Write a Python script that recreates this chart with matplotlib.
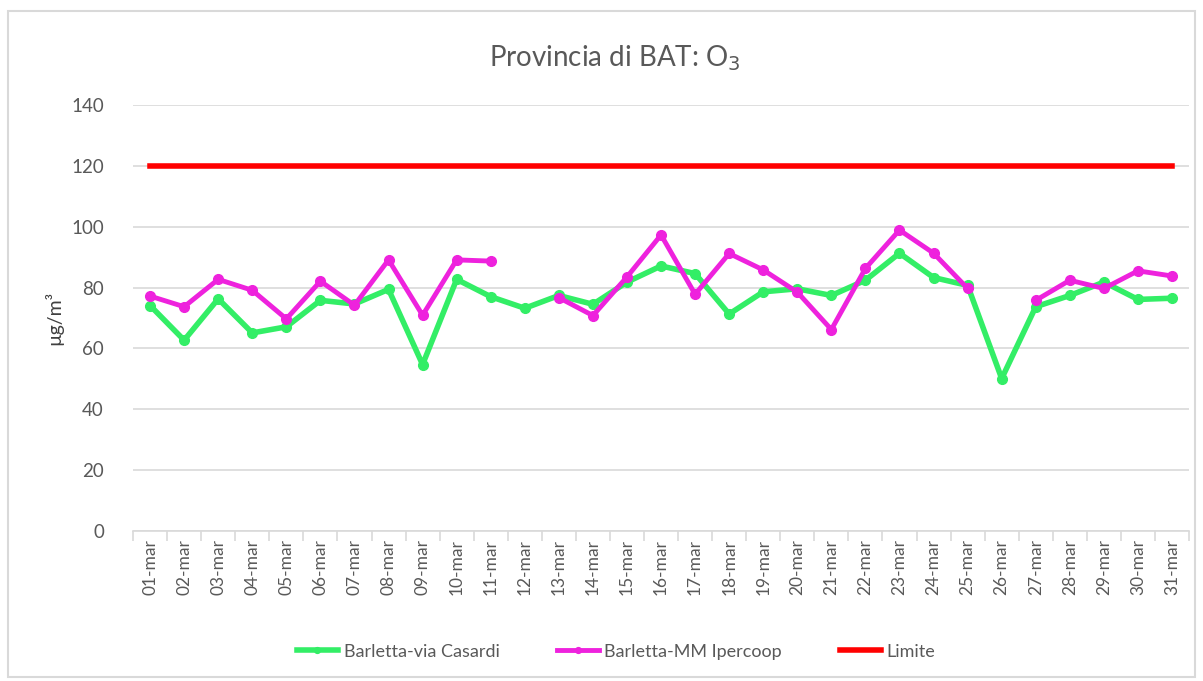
import matplotlib.pyplot as plt
import matplotlib.patches as patches
import numpy as np

plt.rcParams['font.family'] = ['Lato', 'DejaVu Sans']

days = ["%02d-mar" % d for d in range(1, 32)]

# Barletta-via Casardi
casardi = [74.1, 62.7, 76.3, 65.1, 67.1, 75.8, 74.6, 79.4, 54.7, 82.7, 77.0,
           73.2, 77.4, 74.5, 81.8, 87.1, 84.6, 71.3, 78.6, 79.6, 77.4,
           82.4, 91.3, 83.3, 80.7, 50.1, 73.7, 77.4, 81.8, 76.1, 76.5]
# Barletta-MM Ipercoop (gaps on 12 and 26)
ipercoop = [77.2, 73.7, 82.7, 79.1, 69.7, 82.1, 74.2, 89.1, 70.9, 89.1, 88.7,
            np.nan, 76.7, 70.8, 83.5, 97.3, 77.8, 91.2, 85.8, 78.5, 66.2,
            86.3, 98.9, 91.3, 79.7, np.nan, 75.8, 82.4, 79.7, 85.5, 83.8]
limite = [120] * 31

x = np.arange(len(days))

fig = plt.figure(figsize=(12.03, 6.81), dpi=100)
ax = fig.add_axes([0.1106, 0.2203, 0.8778, 0.6255])

# chart border like excel
fig.patches.append(patches.Rectangle((8 / 1203, 4 / 681), 1187 / 1203, 666 / 681,
                                     transform=fig.transFigure, fill=False,
                                     edgecolor='#d9d9d9', linewidth=1.5))

ax.plot(x, casardi, color='#33ee66', lw=4, marker='o', ms=7, label='Barletta-via Casardi')
ax.plot(x, ipercoop, color='#ee22dd', lw=3.5, marker='o', ms=7, label='Barletta-MM Ipercoop')
ax.plot(x, limite, color='#ff0000', lw=4, label='Limite')

ax.set_xlim(-0.5, len(days) - 0.5)
ax.set_ylim(0, 140)
ax.set_yticks(range(0, 141, 20))
ax.grid(axis='y', color='#d9d9d9', lw=1.2)
ax.set_axisbelow(True)

ax.set_xticks(x)
ax.set_xticklabels(days, rotation=90, fontsize=12.5, color='#595959')
ax.set_xticks(np.arange(-0.5, len(days), 1), minor=True)
ax.tick_params(axis='x', which='major', length=0, pad=6)
ax.tick_params(axis='x', which='minor', length=7, color='#d9d9d9', width=1.2)
ax.tick_params(axis='y', length=0, labelsize=13.5, labelcolor='#595959', pad=21)

for s in ['top', 'right', 'left']:
    ax.spines[s].set_visible(False)
ax.spines['bottom'].set_color('#d9d9d9')
ax.spines['bottom'].set_linewidth(1.2)

ax.set_ylabel('µg/m³', fontsize=14, color='#404040', labelpad=6)
fig.text(0.511, 0.915, 'Provincia di BAT: O$_3$', ha='center', va='center',
         fontsize=20, color='#595959')

fig.legend(loc='center', bbox_to_anchor=(0.512, 0.043), ncol=3, frameon=False,
           fontsize=13, handlelength=2.3, columnspacing=3.2, handletextpad=0.3,
           labelcolor='#595959', markerscale=0.6)

fig.savefig('out.png', dpi=100)
